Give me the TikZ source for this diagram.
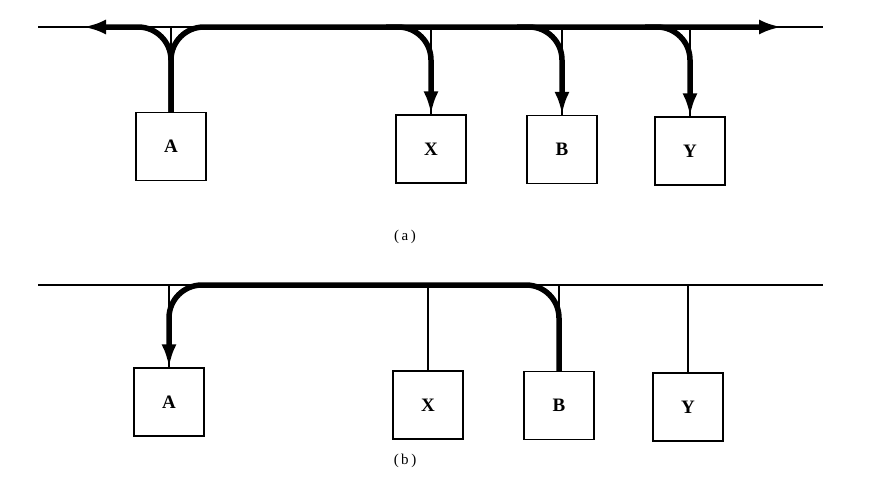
\documentclass[tikz,border=0pt]{standalone}
\usepackage{fontspec}
\setmainfont{Liberation Serif}
\usetikzlibrary{arrows.meta,calc}
\begin{document}
\begin{tikzpicture}[x=1pt,y=-1pt,
  station/.style={draw, line width=1.3pt, minimum width=70pt, minimum height=68pt, inner sep=0pt,
    font=\fontsize{19}{22}\selectfont\bfseries},
  busline/.style={line width=2.4pt},
  stub/.style={line width=1.2pt},
  flow/.style={line width=5.5pt, rounded corners=33pt},
  tipped/.style={-{Latex[length=23pt,width=15pt]}},
  figlabel/.style={font=\fontsize{15}{17}\selectfont, inner sep=0pt}
]
\path[use as bounding box] (0,0) rectangle (888,485);

% ---------- panel (a) ----------
\node[station] (A1) at (171,146.5) {A};
\node[station] (X1) at (431,149) {X};
\node[station] (B1) at (562,149.5) {B};
\node[station] (Y1) at (690,151) {Y};
\coordinate (La) at (38,27);
\coordinate (Ra) at (823,27);
\coordinate (TipL) at (83,27);
\coordinate (TipR) at (782,27);

\draw[busline] (La) -- (Ra);
\foreach \n in {A1,X1,B1,Y1}
  \draw[stub] (\n.north |- La) -- (\n.north);

\draw[flow,tipped] (A1.north) -- (A1.north |- La) -- (TipL);
\draw[flow,tipped] (A1.north) -- (A1.north |- La) -- (TipR);
\foreach \n in {X1,B1,Y1}
  \draw[flow,tipped] ($(\n.north |- La)+(-45,0)$) -- (\n.north |- La) -- (\n.north);

\node[figlabel] (capa) at (405,237) {(\,a\,)};

% ---------- panel (b) ----------
\node[station] (A2) at (169,402) {A};
\node[station] (X2) at (428,405) {X};
\node[station] (B2) at (559,405.5) {B};
\node[station] (Y2) at (688,407) {Y};
\coordinate (Lb) at (38,285);
\coordinate (Rb) at (823,285);

\draw[busline] (Lb) -- (Rb);
\foreach \n in {A2,X2,B2,Y2}
  \draw[stub] (\n.north |- Lb) -- (\n.north);

\draw[flow,tipped] (B2.north) -- (B2.north |- Lb) -- (A2.north |- Lb) -- (A2.north);

\node[figlabel] (capb) at (405,461) {(\,b\,)};
\end{tikzpicture}
\end{document}
